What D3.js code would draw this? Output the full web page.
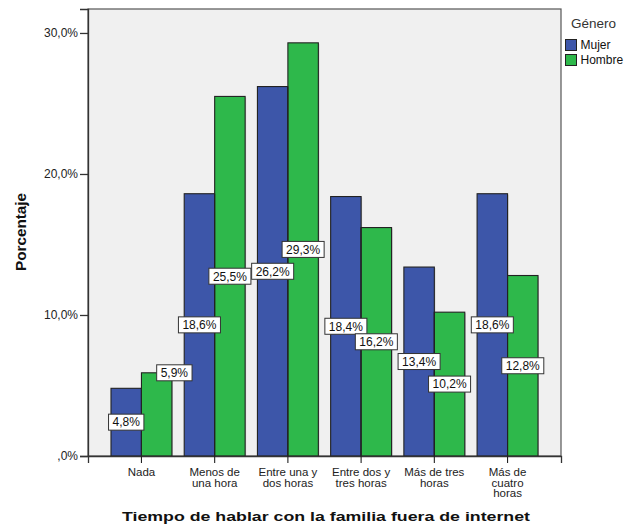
<!DOCTYPE html>
<html><head><meta charset="utf-8">
<script src="https://cdn.jsdelivr.net/npm/d3@7"></script>
<style>
html,body{margin:0;padding:0;background:#fff;}
text{font-family:"Liberation Sans",Arial,sans-serif;}
</style></head>
<body><svg id="c" width="625" height="528"></svg>
<script>
const categories = [["Nada"],["Menos de","una hora"],["Entre una y","dos horas"],["Entre dos y","tres horas"],["Más de tres","horas"],["Más de","cuatro","horas"]];
const seriesNames = ["Mujer","Hombre"];
const mujer = [4.8, 18.6, 26.2, 18.4, 13.4, 18.6];
const hombre = [5.9, 25.5, 29.3, 16.2, 10.2, 12.8];
const yTicks = [0, 10, 20, 30];
const colors = ["#3d56a9", "#2eb84b"];
const legendTitle = "Género";
const yTitle = "Porcentaje";
const xTitle = "Tiempo de hablar con la familia fuera de internet";

const fmt = v => (v === 0 ? ",0%" : v.toFixed(1).replace(".", ",") + "%");

const svg = d3.select("#c");
const L = 88, R = 561, T = 9, B = 456;
const catKeys = categories.map(c => c.join(" "));
const x0 = d3.scaleBand().domain(catKeys).range([L, R]).paddingInner(0.168).paddingOuter(0.314);
const x1 = d3.scaleBand().domain(seriesNames).range([0, x0.bandwidth()]);
const y = d3.scaleLinear().domain([0, 31.7]).range([B, T]);

// plot background
svg.append("rect").attr("x", L).attr("y", T).attr("width", R - L).attr("height", B - T)
  .attr("fill", "#f0f0f0").attr("stroke", "#555").attr("stroke-width", 1.2);

// bars
const data = catKeys.map((k, i) => ({ k, vals: [mujer[i], hombre[i]] }));
const g = svg.append("g");
data.forEach(d => {
  d.vals.forEach((v, j) => {
    const bx = x0(d.k) + x1(seriesNames[j]);
    g.append("rect").attr("x", bx + 1).attr("y", y(v) + 1).attr("width", x1.bandwidth()).attr("height", B - y(v) - 1)
      .attr("fill", "rgba(0,0,0,0.18)");
    g.append("rect").attr("x", bx).attr("y", y(v)).attr("width", x1.bandwidth()).attr("height", B - y(v))
      .attr("fill", colors[j]).attr("stroke", "#222").attr("stroke-width", 1.1);
  });
});

// axes
const yAxis = d3.axisLeft(y).tickValues(yTicks).tickFormat(fmt).tickSize(8).tickPadding(2);
const ya = svg.append("g").attr("transform", `translate(${L},0)`).call(yAxis);
ya.select(".domain").attr("stroke", "#333").attr("stroke-width", 1.3);
ya.selectAll(".tick line").attr("stroke", "#333").attr("stroke-width", 1.3);
ya.selectAll(".tick text").attr("font-size", 12).attr("fill", "#222").attr("font-family", "Liberation Sans, Arial, sans-serif");

const xAxis = d3.axisBottom(x0).tickSize(7).tickFormat("");
const xa = svg.append("g").attr("transform", `translate(0,${B})`).call(xAxis);
xa.select(".domain").attr("stroke", "#333").attr("stroke-width", 1.3);
xa.selectAll(".tick line").remove();
catKeys.forEach(k => {
  const cx = x0(k) + x0.bandwidth() / 2;
  const top = y(Math.min(...data.find(d => d.k === k).vals));
  svg.append("line").attr("x1", cx).attr("x2", cx).attr("y1", top).attr("y2", B + 7)
    .attr("stroke", "#222").attr("stroke-width", 1.1);
});
categories.forEach((c, i) => {
  const cx = x0(catKeys[i]) + x0.bandwidth() / 2;
  const t = svg.append("text").attr("x", cx).attr("y", 476).attr("text-anchor", "middle")
    .attr("font-size", 11.5).attr("fill", "#222");
  c.forEach((line, li) => t.append("tspan").attr("x", cx).attr("y", 476 + li * 10.5).text(line));
});

// value labels
const placed = [];
const tol = 3;
data.forEach(d => {
  d.vals.forEach((v, j) => {
    const bx = x0(d.k) + x1(seriesNames[j]);
    const cx = bx + x1.bandwidth() / 2;
    const label = fmt(v);
    const tmp = svg.append("text").attr("font-size", 12).text(label);
    const w = tmp.node().getComputedTextLength() + 8;
    tmp.remove();
    const h = 16;
    let bxL = cx - w / 2, cy = (y(v) + B) / 2;
    const overlaps = (a) => placed.some(p => !(a.x + a.w <= p.x + tol || p.x + p.w <= a.x + tol || a.y + a.h <= p.y + tol || p.y + p.h <= a.y + tol));
    if (overlaps({ x: bxL, y: cy - h / 2, w, h })) { bxL = cx; cy = y(v); }
    placed.push({ x: bxL, y: cy - h / 2, w, h });
    svg.append("rect").attr("x", bxL).attr("y", cy - h / 2).attr("width", w).attr("height", h)
      .attr("fill", "#fff").attr("stroke", "#333").attr("stroke-width", 1);
    svg.append("text").attr("x", bxL + w / 2).attr("y", cy + 4.3).attr("text-anchor", "middle")
      .attr("font-size", 12).attr("fill", "#111").text(label);
  });
});

// legend
svg.append("text").attr("x", 571).attr("y", 28).attr("font-size", 13.5).attr("fill", "#333").text(legendTitle);
seriesNames.forEach((s, i) => {
  const yy = 39 + i * 15;
  svg.append("rect").attr("x", 565.5).attr("y", yy + 0.5).attr("width", 11).attr("height", 11)
    .attr("fill", colors[i]).attr("stroke", "#222").attr("stroke-width", 1);
  svg.append("text").attr("x", 580.5).attr("y", yy + 10).attr("font-size", 12).attr("fill", "#111").text(s);
});

// titles
svg.append("text").attr("transform", "translate(26,232) rotate(-90)").attr("text-anchor", "middle")
  .attr("font-size", 14).attr("font-weight", "bold").attr("fill", "#111")
  .attr("textLength", 78).attr("lengthAdjust", "spacingAndGlyphs").text(yTitle);
svg.append("text").attr("x", 326).attr("y", 521).attr("text-anchor", "middle")
  .attr("font-family", "DejaVu Sans, Verdana, sans-serif")
  .attr("font-size", 13.5).attr("font-weight", "bold").attr("fill", "#111")
  .attr("textLength", 408).attr("lengthAdjust", "spacingAndGlyphs").text(xTitle);
</script></body></html>
